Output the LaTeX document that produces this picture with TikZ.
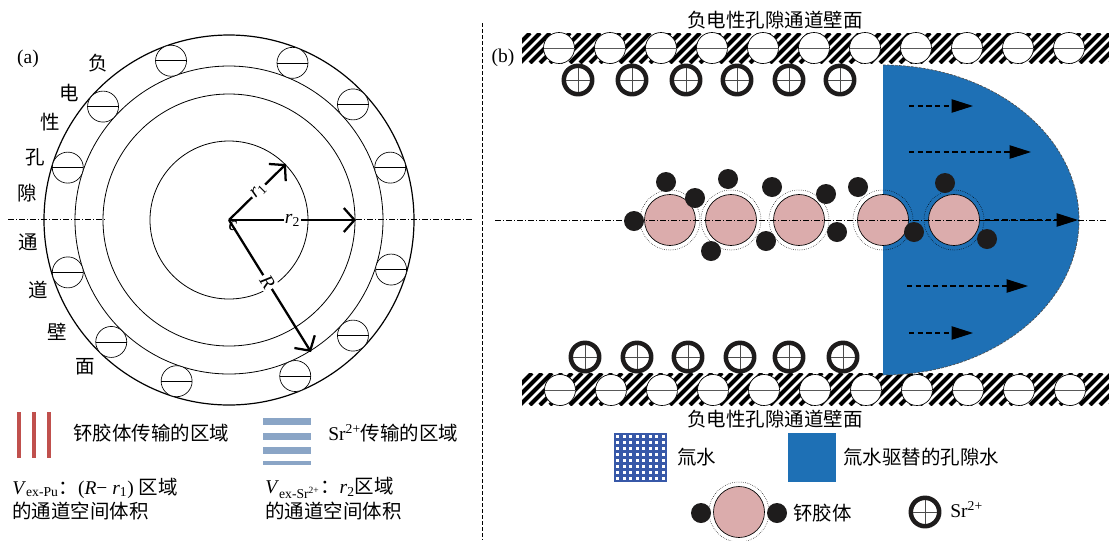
\documentclass[tikz,border=0pt]{standalone}
\usepackage{fontspec}
\setmainfont{Liberation Serif}
\newfontfamily\cjk{Noto Sans CJK SC}
\usetikzlibrary{arrows.meta,calc}

\definecolor{puRed}{RGB}{192,80,77}
\definecolor{srBlue}{RGB}{138,165,198}
\definecolor{tritBlue}{RGB}{55,88,168}
\definecolor{poreBlue}{RGB}{30,112,181}
\definecolor{colloidPink}{RGB}{219,172,172}
\definecolor{dotBlack}{RGB}{30,28,28}

\begin{document}
\begin{tikzpicture}[x=.75pt,y=-.75pt,line width=.6pt,
  every node/.style={inner sep=0pt,font=\fontsize{14.6}{17}\selectfont},
  axisline/.style={line width=.5pt,dash pattern=on 4.5pt off 1.5pt on .75pt off 1.5pt},
  radius arrow/.style={line width=1.7pt,-{Straight Barb[length=8pt,width=18pt]}},
  flow arrow/.style={line width=.8pt,dash pattern=on 4pt off 2.5pt,-{Triangle[length=16pt,width=10pt]}},
  wall ion/.style={fill=white,line width=.5pt},
  sr ion/.style={line width=3.4pt,dotBlack}]
\path[use as bounding box] (0,0) rectangle (1109,540);

% (a) cross section of the pore channel
\coordinate (c) at (229,220);
\node at (28,59) {(a)};
\draw[line width=.9pt] (c) circle (185);
\draw (c) circle (154);
\draw (c) circle (126);
\draw (c) circle (79);
% y runs downwards, so the angles are taken negative
\foreach \a in {18,43,68,110,138,162,198,226,252,293,317,343}{
  \coordinate (ion) at ($(c)+(-\a:169.5)$);
  \draw[wall ion] (ion) circle (15.5);
  \draw[line width=.5pt] ($(ion)+(-15.5,0)$) -- ($(ion)+(15.5,0)$);
}
\draw[axisline] (8,219) -- (105,219);
\draw[axisline] (356,219) -- (472,219);
\foreach \x/\y/\t in {98/63/负,69/93/电,50/122/性,35/157/孔,27/193/隙,
                      28/242/通,38/290/道,57/332/壁,85/367/面}
  \node at (\x,\y) {\cjk \t};
\node at (233,226) {\textit{c}};
\coordinate (r1end) at (286,164);
\coordinate (r2end) at (356,220);
\coordinate (Rend) at (311,352);
\draw[radius arrow] (c) -- (r1end) node[pos=.52,fill=white,inner sep=1pt,rotate=45] {\textit{r}\textsubscript{1}};
\draw[radius arrow] (c) -- (r2end) node[pos=.5,fill=white,inner sep=1pt] {\textit{r}\textsubscript{2}};
\draw[radius arrow] (c) -- (Rend) node[pos=.47,fill=white,inner sep=1.5pt,rotate=-58] {\textit{R}};

% legend of (a)
\foreach \x in {19,34,49}
  \fill[puRed] (\x-2,412) rectangle (\x+2,458);
\foreach \y in {418,433,447}
  \fill[srBlue] (263,\y) rectangle (311,\y+6.5);
\fill[srBlue] (263,461) rectangle (311,464.5);
\node[anchor=west] (puarea) at (73,433) {\cjk 钚胶体传输的区域};
\node[anchor=west] (srarea) at (328,433) {Sr\textsuperscript{2+}{\cjk 传输的区域}};
\node[anchor=west] (vpu) at (12,488) {\textit{V}\textsubscript{ex-Pu}{\cjk ：}(\textit{R}− \textit{r}\textsubscript{1}) {\cjk 区域}};
\node[anchor=west] (vpu2) at (12,511) {\cjk 的通道空间体积};
\node[anchor=west] (vsr) at (265,488) {\textit{V}\textsubscript{ex-Sr\textsuperscript{2+}}{\cjk ：}\textit{r}\textsubscript{2}{\cjk 区域}};
\node[anchor=west] (vsr2) at (265,511) {\cjk 的通道空间体积};

\draw[line width=.6pt,dash pattern=on 3pt off 1.5pt] (482,23) -- (482,540);

% (b) longitudinal section of the channel
\node at (503,58) {(b)};
\node (topwall) at (775,20) {\cjk 负电性孔隙通道壁面};
\node (botwall) at (775,419) {\cjk 负电性孔隙通道壁面};
\begin{scope}
  \clip (522,33) rectangle (1109,63);
  \foreach \i in {0,...,62}
    \draw[line width=3pt] ({500+10*\i},63) -- ({530+10*\i},33);
\end{scope}
\begin{scope}
  \clip (522,373) rectangle (1109,405);
  \foreach \i in {0,...,62}
    \draw[line width=3pt] ({500+10*\i},405) -- ({532+10*\i},373);
\end{scope}
\foreach \k in {0,...,10}{
  \draw[wall ion] ({559+51*\k},48) circle (15.5);
  \draw[line width=.5pt,gray!70!black] ({543.5+51*\k},48) -- ++(31,0);
  \draw[wall ion] ({560+51*\k},390) circle (15.5);
  \draw[line width=.5pt,gray!70!black] ({544.5+51*\k},390) -- ++(31,0);
}
\foreach \x/\y in {578/80,632/80,686/80,737/80,789/80,840/80,
                   585/357,637/357,688/357,740/357,789/357,843/357,925/512}{
  \draw[sr ion] (\x,\y) circle (14.2);
  \draw[line width=.5pt,gray!60!black] (\x-12,\y) -- (\x+12,\y) (\x,\y-12) -- (\x,\y+12);
}

% tritiated water front
\fill[poreBlue] (883,65) arc[start angle=-90,end angle=90,x radius=196,y radius=155] -- cycle;
\draw[line width=.5pt,black!70,dash pattern=on 2pt off 1pt] (883,65) arc[start angle=-90,end angle=90,x radius=196,y radius=155];
\draw[flow arrow] (909,106) -- (973,106);
\draw[flow arrow] (909,152) -- (1031,152);
\draw[flow arrow] (985,220) -- (1078,220);
\draw[flow arrow] (907,286) -- (1028,286);
\draw[flow arrow] (909,333) -- (973,333);

% Pu colloids with sorbed particles
\foreach \x in {670,731,799,883,954}{
  \draw[line width=.4pt,densely dotted] (\x,220) circle (30);
  \draw[line width=.5pt,fill=colloidPink] (\x,220) circle (25.5);
}
\draw[axisline] (495,220) -- (1107,220);
\foreach \x/\y in {666/182,695/198,634/221,728/179,711/251,772/187,766/241,
                   826/194,837/232,858/187,914/232,945/183,987/239}
  \fill[dotBlack] (\x,\y) circle (10);

% legend of (b)
\fill[tritBlue] (614,433) rectangle (667,482);
\foreach \i in {0,...,7}
  \foreach \j in {0,...,7}
    \fill[white] ({616+6.5*\i},{435+6*\j}) rectangle ++(3,3);
\node[anchor=west] (tritium) at (677,457) {\cjk 氚水};
\fill[poreBlue] (788,433) rectangle (836,482);
\node[anchor=west] (porewater) at (843,457) {\cjk 氚水驱替的孔隙水};
\draw[line width=.4pt,densely dotted] (739,512) circle (30);
\draw[line width=.5pt,fill=colloidPink] (739,512) circle (25.5);
\fill[dotBlack] (701,513) circle (10);
\fill[dotBlack] (777,513) circle (10);
\node[anchor=west] (colloid) at (793,513) {\cjk 钚胶体};
\node[anchor=west] (srion) at (950,510) {Sr\textsuperscript{2+}};
\end{tikzpicture}
\end{document}
